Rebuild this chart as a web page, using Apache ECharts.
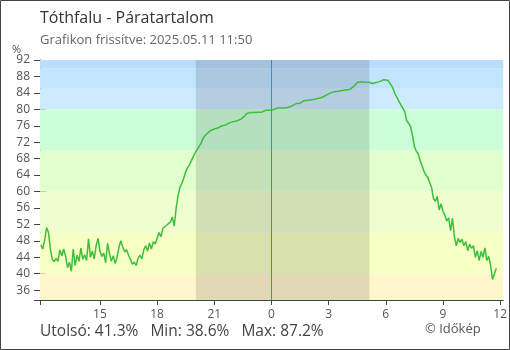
<!DOCTYPE html>
<html>
<head>
<meta charset="utf-8">
<script src="https://cdn.jsdelivr.net/npm/echarts@6/dist/echarts.min.js"></script>
<style>
html,body{margin:0;padding:0;background:#fff;}
#chart{width:510px;height:350px;}
</style>
</head>
<body>
<div id="chart"></div>
<script>
// ---- data (hours relative to midnight 05.11; negative = previous day) ----
const startHour = -12.1;   // first sample ~11:54 on 05.10
const stepHour = 0.1;      // 6-minute sampling
const humidity = [
  47.0, 46.0, 48.2, 51.2, 50.0, 46.0, 43.5, 42.9, 43.8, 43.0, 45.8,
  44.3, 46.0, 44.2, 41.5, 42.8, 40.6, 46.0, 42.0, 44.5, 43.0,
  46.2, 43.5, 44.6, 43.2, 48.5, 44.0, 45.5, 43.6, 46.8, 48.6,
  45.5, 44.2, 45.0, 42.7, 47.4, 45.0, 43.0, 44.4, 42.5, 44.0,
  46.5, 48.0, 46.5, 45.3, 45.8, 44.5, 43.5, 42.3, 42.8, 42.0,
  43.8, 44.5, 43.6, 45.8, 46.8, 45.5, 47.5, 46.0, 47.8, 47.2,
  48.6, 50.0, 49.0, 51.0, 51.4, 51.8, 52.2, 52.6, 53.8, 51.6,
  56.0, 59.0, 61.0, 62.0, 63.3, 64.8, 65.8, 66.5, 67.5, 68.5,
  69.5, 70.2, 71.0, 71.7, 72.8, 73.5, 74.0, 74.4, 74.8, 75.0,
  75.2, 75.4, 75.5, 75.7, 76.0, 76.1, 76.2, 76.5, 76.7, 76.8,
  77.0, 77.0, 77.2, 77.4, 77.6, 78.0, 78.4, 79.0, 79.3, 79.2,
  79.2, 79.2, 79.2, 79.3, 79.3, 79.3, 79.4, 79.8, 79.8, 79.8,
  79.8, 79.9, 80.0, 80.3, 80.3, 80.3, 80.3, 80.3, 80.4, 80.5,
  80.8, 80.9, 81.0, 81.4, 81.4, 81.5, 81.8, 82.1, 82.2, 82.2,
  82.2, 82.3, 82.4, 82.5, 82.6, 82.7, 82.8, 83.0, 83.4, 83.5,
  83.7, 84.0, 84.1, 84.3, 84.4, 84.4, 84.5, 84.6, 84.6, 84.7,
  84.8, 84.8, 85.0, 85.5, 86.0, 86.5, 86.7, 86.7, 86.6, 86.6,
  86.6, 86.6, 86.4, 86.3, 86.3, 86.5, 86.7, 86.8, 87.0, 87.2,
  87.2, 87.1, 86.8, 85.8, 84.8, 83.6, 82.8, 81.8, 81.0, 80.2,
  79.4, 77.2, 76.6, 75.8, 73.6, 71.0, 69.8, 69.2, 67.6, 67.2,
  65.0, 64.0, 63.5, 62.2, 61.0, 58.3, 57.6, 58.8, 55.5, 57.0,
  55.2, 54.2, 52.8, 53.6, 50.5, 53.5, 49.0, 46.8, 48.6, 47.6,
  48.4, 46.8, 47.8, 45.6, 47.2, 46.2, 46.8, 44.0, 45.6, 43.2,
  45.4, 44.0, 46.3, 43.2, 44.2, 42.0, 38.6, 40.0, 41.3
];
const xTickHours = [-9, -6, -3, 0, 3, 6, 9, 12];
const yTickValues = [36, 40, 44, 48, 52, 56, 60, 64, 68, 72, 76, 80, 84, 88, 92];
const nightStart = -3.97;  // sunset ~20:02
const nightEnd = 5.14;     // sunrise ~05:08
const bandEdges = [33.6, 40, 50, 60, 70, 80, 85, 90, 92];
const titleText = 'Tóthfalu - Páratartalom';
const subText = 'Grafikon frissítve: 2025.05.11 11:50';
const creditText = '© Időkép';

// ---- styles ----
const bandColors = ['#fff7cc', '#f6ffc4', '#effecf', '#e2ffce', '#ccffd9', '#cdebff', '#c2e5ff', '#bcdcfd'];
const FONT = 'Open Sans';
const xMin = -12.145, xMax = 12.165;
const yMin = 33.6, yMax = 92;

const seriesData = humidity.map((v, i) => [startHour + i * stepHour, v]);
const last = humidity[humidity.length - 1];
const minV = Math.min(...humidity);
const maxV = Math.max(...humidity);
const statsText = 'Utolsó: ' + last.toFixed(1) + '%   Min: ' + minV.toFixed(1) + '%   Max: ' + maxV.toFixed(1) + '%';

const bandAreas = [];
for (let i = 0; i < bandColors.length; i++) {
  bandAreas.push([{ yAxis: bandEdges[i], itemStyle: { color: bandColors[i] } }, { yAxis: bandEdges[i + 1] }]);
}

const axisColor = '#444';
const chart = echarts.init(document.getElementById('chart'), null, { renderer: 'canvas' });
chart.setOption({
  animation: false,
  backgroundColor: '#fff',
  title: [
    { text: titleText, left: 40, top: 10, padding: 0, textStyle: { fontFamily: FONT, fontSize: 16, fontWeight: 'normal', color: '#333' } },
    { text: subText, left: 40, top: 34, padding: 0, textStyle: { fontFamily: FONT, fontSize: 13, fontWeight: 'normal', color: '#666' } },
    { text: statsText, left: 40, top: 324, padding: 0, textStyle: { fontFamily: FONT, fontSize: 15.5, fontWeight: 'normal', color: '#444' } },
    { text: creditText, left: 425, top: 323, padding: 0, textStyle: { fontFamily: FONT, fontSize: 13, fontWeight: 'normal', color: '#555' } }
  ],
  grid: { left: 40, right: 3, top: 60, bottom: 50 },
  xAxis: [
    {
      type: 'value', min: xMin, max: xMax,
      axisLine: { show: true, onZero: false, lineStyle: { color: axisColor } },
      splitLine: { show: false },
      axisTick: { show: true, customValues: [xMin].concat(xTickHours), length: 5, lineStyle: { color: axisColor } },
      axisLabel: {
        show: true, customValues: xTickHours, margin: 9, color: '#555', fontFamily: FONT, fontSize: 12,
        formatter: v => String((Math.round(v) + 24) % 24)
      }
    },
    {
      type: 'value', min: xMin, max: xMax, position: 'bottom',
      axisLine: { show: false, onZero: false }, splitLine: { show: false }, axisLabel: { show: false },
      axisTick: { show: true, inside: true, customValues: xTickHours, length: 6, lineStyle: { color: axisColor } }
    }
  ],
  yAxis: [
    {
      type: 'value', min: yMin, max: yMax,
      axisLine: { show: true, onZero: false, lineStyle: { color: axisColor } },
      splitLine: { show: false },
      axisTick: { show: true, customValues: [yMin].concat(yTickValues), length: 6, lineStyle: { color: axisColor } },
      axisLabel: { show: true, customValues: yTickValues, margin: 10, color: '#555', fontFamily: FONT, fontSize: 12 }
    },
    {
      type: 'value', min: yMin, max: yMax, position: 'left',
      axisLine: { show: false, onZero: false }, splitLine: { show: false }, axisLabel: { show: false },
      axisTick: { show: true, inside: true, customValues: yTickValues, length: 6, lineStyle: { color: axisColor } }
    }
  ],
  graphic: [
    { type: 'text', left: 12, top: 44, style: { text: '%', fontFamily: FONT, fontSize: 11, fill: '#555' } },
    { type: 'rect', shape: { x: 0.5, y: 0.5, width: 509, height: 349 }, style: { fill: null, stroke: '#444', lineWidth: 1 }, silent: true, z: 100 }
  ],
  series: [
    {
      type: 'line', data: [], z: 1, silent: true,
      markArea: { silent: true, data: bandAreas }
    },
    {
      type: 'line', data: [], z: 2, silent: true,
      markArea: { silent: true, itemStyle: { color: 'rgba(0,0,0,0.12)' }, data: [[{ xAxis: nightStart }, { xAxis: nightEnd }]] }
    },
    {
      type: 'line', data: seriesData, z: 3, symbol: 'none', silent: true,
      lineStyle: { color: '#3dbf3d', width: 1.5 },
      markLine: {
        silent: true, symbol: 'none', label: { show: false },
        lineStyle: { color: '#3a8ad0', width: 1, type: 'solid' },
        data: [{ xAxis: 0 }]
      }
    }
  ]
});
</script>
</body>
</html>
